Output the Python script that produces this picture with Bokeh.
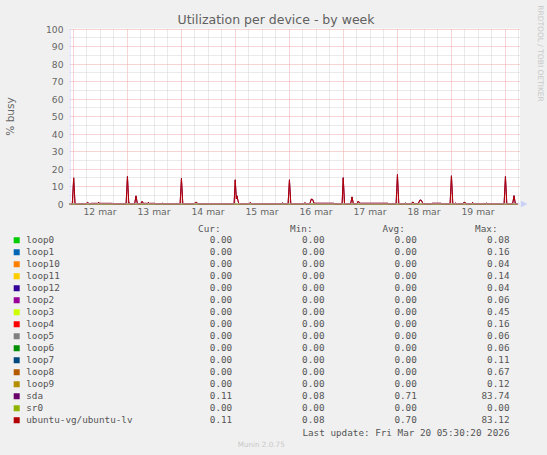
import math
from bokeh.plotting import figure
from bokeh.models import Range1d, FixedTicker, Span
from bokeh.layouts import column, row
from bokeh.embed import file_html
from bokeh.resources import INLINE
from bokeh.core.properties import value

# ---------------- data ----------------
devices = ["loop0", "loop1", "loop10", "loop11", "loop12", "loop2", "loop3", "loop4",
           "loop5", "loop6", "loop7", "loop8", "loop9", "sda", "sr0", "ubuntu-vg/ubuntu-lv"]
colors = ["#00CC00", "#0066B3", "#FF8000", "#FFCC00", "#330099", "#990099", "#CCFF00", "#FF0000",
          "#808080", "#008F00", "#00487D", "#B35A00", "#B38F00", "#6B006B", "#8FB300", "#B30000"]
cur_vals = [0.00, 0.00, 0.00, 0.00, 0.00, 0.00, 0.00, 0.00, 0.00, 0.00, 0.00, 0.00, 0.00, 0.11, 0.00, 0.11]
min_vals = [0.00, 0.00, 0.00, 0.00, 0.00, 0.00, 0.00, 0.00, 0.00, 0.00, 0.00, 0.00, 0.00, 0.08, 0.00, 0.08]
avg_vals = [0.00, 0.00, 0.00, 0.00, 0.00, 0.00, 0.00, 0.00, 0.00, 0.00, 0.00, 0.00, 0.00, 0.71, 0.00, 0.70]
max_vals = [0.08, 0.16, 0.04, 0.14, 0.04, 0.06, 0.45, 0.16, 0.06, 0.06, 0.11, 0.67, 0.12, 83.74, 0.00, 83.12]

# x axis: hours since 12 mar 00:00
day_label_hours = [12, 36, 60, 84, 108, 132, 156, 180]
day_labels = ["12 mar", "13 mar", "14 mar", "15 mar", "16 mar", "17 mar", "18 mar", "19 mar"]
midnight_hours = [0, 24, 48, 72, 96, 120, 144, 168, 192]
six_hour_marks = [6, 12, 18, 30, 36, 42, 54, 60, 66, 78, 84, 90, 102, 108, 114, 126, 132, 138,
                  150, 156, 162, 174, 180, 186, 198]
y_major = [0, 10, 20, 30, 40, 50, 60, 70, 80, 90, 100]
y_minor = [5, 15, 25, 35, 45, 55, 65, 75, 85, 95]

hours = [-1.5, -0.3, 0.3, 0.9, 5.8, 6.5, 7.2, 7.6, 8.2, 11.0, 11.4, 11.8, 17.5, 17.9,
         23.6, 24.2, 24.8, 25.1, 25.5, 27.4, 28.0, 28.6, 30.1, 30.7, 31.3, 33.1, 33.5, 33.9, 36.3, 36.7, 39.1, 39.6, 40.1,
         47.6, 48.2, 48.8, 53.8, 54.4, 55.0, 55.6,
         71.6, 72.1, 72.6, 72.9, 73.3, 73.7, 74.2, 78.2, 78.8, 79.4, 92.7, 93.2, 93.7,
         95.6, 96.2, 96.8, 102.6, 103.1, 103.6, 105.3, 105.9, 106.5, 107.1, 115.8, 116.2,
         119.6, 120.1, 120.7, 123.4, 124.0, 124.6, 126.2, 126.8, 127.4, 139.9, 140.3,
         143.6, 144.2, 144.8, 147.3, 147.8, 148.3, 150.4, 151.0, 151.6, 153.5, 154.2, 154.8, 155.5, 156.5, 159.3, 159.6, 163.4, 163.8,
         167.6, 168.2, 168.8, 169.5, 170.0, 170.5, 173.3, 173.7, 174.3, 174.8, 177.1, 177.6, 178.2, 183.5, 183.9, 184.3,
         191.6, 192.2, 192.8, 195.4, 196.0, 196.6, 197.5]
lv_busy = [0.1, 0.1, 14.8, 0.1, 0.1, 1.0, 0.1, 0.1, 0.35, 0.35, 1.0, 0.35, 0.35, 0.1,
           0.1, 15.6, 0.2, 0.5, 0.1, 0.1, 4.6, 0.1, 0.2, 1.5, 0.35, 0.35, 0.9, 0.35, 0.35, 0.1, 0.1, 0.5, 0.1,
           0.1, 14.5, 0.1, 0.1, 0.9, 0.9, 0.1,
           0.1, 13.7, 3.0, 4.6, 2.0, 0.3, 0.1, 0.1, 0.9, 0.1, 0.1, 0.6, 0.1,
           0.1, 13.7, 0.1, 0.1, 0.8, 0.1, 0.2, 2.8, 2.6, 0.4, 0.4, 0.1,
           0.1, 14.9, 0.1, 0.1, 4.0, 0.1, 0.2, 1.7, 0.4, 0.4, 0.1,
           0.1, 16.7, 0.1, 0.1, 0.5, 0.1, 0.1, 1.2, 0.3, 0.3, 2.3, 2.1, 0.3, 0.1, 0.1, 0.4, 0.4, 0.1,
           0.1, 16.0, 0.1, 0.1, 0.5, 0.1, 0.1, 0.9, 0.9, 0.1, 0.1, 0.9, 0.1, 0.1, 0.5, 0.1,
           0.1, 15.6, 0.1, 0.1, 4.7, 0.1, 0.1]
sda_busy = [0.1, 0.1, 15.0, 0.1, 0.1, 1.0, 0.1, 0.1, 0.35, 0.35, 1.0, 0.35, 0.35, 0.1,
            0.1, 15.8, 0.2, 0.5, 0.1, 0.1, 4.7, 0.1, 0.2, 1.5, 0.35, 0.35, 0.9, 0.35, 0.35, 0.1, 0.1, 0.5, 0.1,
            0.1, 14.7, 0.1, 0.1, 0.9, 0.9, 0.1,
            0.1, 13.9, 3.0, 4.7, 2.0, 0.3, 0.1, 0.1, 0.9, 0.1, 0.1, 0.6, 0.1,
            0.1, 13.9, 0.1, 0.1, 0.8, 0.1, 0.2, 2.8, 2.6, 0.4, 0.4, 0.1,
            0.1, 15.1, 0.1, 0.1, 4.1, 0.1, 0.2, 1.7, 0.4, 0.4, 0.1,
            0.1, 16.9, 0.1, 0.1, 0.5, 0.1, 0.1, 1.2, 0.3, 0.3, 2.3, 2.1, 0.3, 0.1, 0.1, 0.4, 0.4, 0.1,
            0.1, 16.2, 0.1, 0.1, 0.5, 0.1, 0.1, 0.9, 0.9, 0.1, 0.1, 0.9, 0.1, 0.1, 0.5, 0.1,
            0.1, 15.8, 0.1, 0.1, 4.8, 0.1, 0.1]
idle_hours = [-1.5, 197.5]
idle_busy = [0.0, 0.0]

title_text = "Utilization per device - by week"
y_label = "% busy"
side_text = "RRDTOOL / TOBI OETIKER"
last_update = "Last update: Fri Mar 20 05:30:20 2026"
munin_text = "Munin 2.0.75"

# ---------------- styling constants ----------------
BG = "#F0F0F0"
AXIS = "#C9D1F6"
FONT = "DejaVu Sans"
MONO = "DejaVu Sans Mono"
PX_PER_H = 2.25
PX_PER_U = 1.75
X0 = -3.5 / PX_PER_H
X1 = X0 + 451 / PX_PER_H
Y0 = -0.5 / PX_PER_U
Y1 = 100 + 0.5 / PX_PER_U

p = figure(frame_width=451, frame_height=176, x_range=Range1d(X0, X1), y_range=Range1d(Y0, Y1),
           min_border_left=67, min_border_right=0, min_border_top=28, min_border_bottom=16,
           output_backend="svg", toolbar_location=None, title=title_text,
           background_fill_color="white", border_fill_color=BG, outline_line_color=None)
p.frame_align = False

p.title.align = "left"
p.title.offset = 108
p.title.standoff = 3
p.title.text_font = FONT
p.title.text_font_size = "12.5px"
p.title.text_font_style = "normal"
p.title.text_color = "#606060"

# grids
p.xgrid.ticker = FixedTicker(ticks=midnight_hours, minor_ticks=six_hour_marks)
p.ygrid.ticker = FixedTicker(ticks=y_major, minor_ticks=y_minor)
for g in (p.xgrid[0], p.ygrid[0]):
    g.grid_line_color = "#EDA8A8"
    g.grid_line_dash = "1 1"
    g.grid_line_width = 1
    g.minor_grid_line_color = "#D4D4D4"
    g.minor_grid_line_dash = "1 1"
    g.minor_grid_line_width = 1

# axes
p.xaxis.ticker = FixedTicker(ticks=day_label_hours)
p.xaxis.major_label_overrides = {h: lab for h, lab in zip(day_label_hours, day_labels)}
p.yaxis.ticker = FixedTicker(ticks=y_major)
for ax, standoff in ((p.xaxis[0], 1), (p.yaxis[0], 6)):
    ax.axis_line_color = None
    ax.major_tick_line_color = None
    ax.minor_tick_line_color = None
    ax.major_tick_out = 0
    ax.major_tick_in = 0
    ax.minor_tick_out = 0
    ax.minor_tick_in = 0
    ax.major_label_standoff = standoff
    ax.major_label_text_font = FONT
    ax.major_label_text_font_size = "9.2px"
    ax.major_label_text_color = "#666666"
p.yaxis.axis_label = y_label
p.yaxis.axis_label_standoff = 27
p.yaxis.axis_label_text_font = FONT
p.yaxis.axis_label_text_font_size = "10.5px"
p.yaxis.axis_label_text_font_style = "normal"
p.yaxis.axis_label_text_color = "#666666"

# series
series = {}
for name in devices:
    series[name] = (idle_hours, idle_busy)
series["sda"] = (hours, sda_busy)
series["ubuntu-vg/ubuntu-lv"] = (hours, lv_busy)
for name, col in zip(devices, colors):
    xs, ys = series[name]
    p.line(xs, ys, line_color=col, line_width=1, line_join="round")

# rrdtool style axis lines
p.add_layout(Span(location=0, dimension="width", line_color=AXIS, line_width=1))
p.add_layout(Span(location=X0 + 0.5 / PX_PER_H, dimension="height", line_color=AXIS, line_width=1))

# ---------------- right strip (credit text + x-axis arrow) ----------------
r = figure(width=29, height=220, x_range=Range1d(518, 547), y_range=Range1d(220, 0),
           min_border=0, output_backend="svg", toolbar_location=None, title=None,
           x_axis_location=None, y_axis_location=None,
           background_fill_color=BG, border_fill_color=BG, outline_line_color=None)
r.frame_align = False
r.grid.visible = False
r.text(x=[537.5], y=[53], text=[side_text], angle=-math.pi / 2, text_align="center",
       text_baseline="middle", text_font=value(FONT), text_font_size=value("7.5px"),
       text_color="#C8C8C8")
r.patch(x=[518.5, 518.5, 524.5], y=[200.5, 206.5, 203.5], fill_color=AXIS, line_color=AXIS, line_width=0.5)

# ---------------- legend area ----------------
TOP = 220
BOTTOM = 455
q = figure(width=547, height=BOTTOM - TOP, x_range=Range1d(0, 547), y_range=Range1d(BOTTOM, TOP),
           min_border=0, output_backend="svg", toolbar_location=None, title=None,
           x_axis_location=None, y_axis_location=None,
           background_fill_color=BG, border_fill_color=BG, outline_line_color=None)
q.frame_align = False
q.grid.visible = False

row_y = [239.3 + 12 * i for i in range(len(devices))]
legend_color = "#555555"
q.rect(x=[16.2] * len(devices), y=[y + 0.4 for y in row_y], width=6, height=6,
       fill_color=colors, line_color=None)
q.text(x=[25.7] * len(devices), y=row_y, text=devices, text_align="left", text_baseline="middle",
       text_font=value(MONO), text_font_size=value("9.3px"), text_color=legend_color)
headers = ["Cur:", "Min:", "Avg:", "Max:"]
q.text(x=[220, 312, 404.3, 497], y=[228.3] * 4, text=headers, text_align="right", text_baseline="middle",
       text_font=value(MONO), text_font_size=value("9.3px"), text_color=legend_color)
for xr, vals in zip([231.7, 324, 416.3, 509], [cur_vals, min_vals, avg_vals, max_vals]):
    q.text(x=[xr] * len(vals), y=row_y, text=["%.2f" % v for v in vals], text_align="right",
           text_baseline="middle", text_font=value(MONO), text_font_size=value("9.3px"),
           text_color=legend_color)
q.text(x=[509], y=[431.7], text=[last_update], text_align="right", text_baseline="middle",
       text_font=value(MONO), text_font_size=value("9.3px"), text_color=legend_color)
q.text(x=[260.7], y=[444.3], text=[munin_text], text_align="center", text_baseline="middle",
       text_font=value(FONT), text_font_size=value("7.2px"), text_color="#C8C8C8")

layout = column(row(p, r, spacing=0), q, spacing=0)
html = file_html(layout, INLINE)
html = html.replace("</head>", "<style>html,body{background:#F0F0F0;}</style></head>", 1)
open("out.html", "w").write(html)
